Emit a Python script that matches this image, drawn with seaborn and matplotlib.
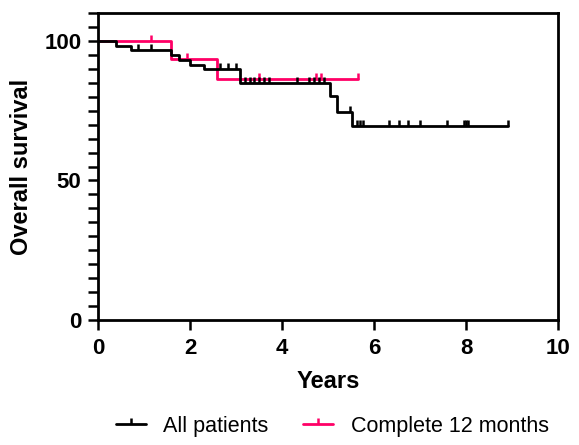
import numpy as np
import pandas as pd
import seaborn as sns
import matplotlib.pyplot as plt
from matplotlib.lines import Line2D
from matplotlib.ticker import MultipleLocator

# Kaplan-Meier step values
all_t = [0, 0.39, 0.71, 1.59, 1.75, 2.0, 2.31, 3.09, 5.04, 5.19, 5.52, 8.91]
all_s = [100, 98.3, 96.6, 94.9, 93.2, 91.5, 89.8, 85.0, 80.1, 74.7, 69.5, 69.5]
# censored points (All patients)
all_cens_t = [0.88, 1.15, 2.65, 2.82, 3.0, 3.2, 3.3, 3.4, 3.5, 3.6, 3.72, 4.33, 4.58,
              4.7, 4.8, 4.92, 5.47, 5.64, 5.7, 5.76, 6.32, 6.54, 6.73, 6.99, 7.58,
              7.95, 8.0, 8.04, 8.91]
all_cens_s = [96.6, 96.6, 89.8, 89.8, 89.8, 85.0, 85.0, 85.0, 85.0, 85.0, 85.0, 85.0, 85.0,
              85.0, 85.0, 85.0, 74.7, 69.5, 69.5, 69.5, 69.5, 69.5, 69.5, 69.5, 69.5,
              69.5, 69.5, 69.5, 69.5]

c12_t = [0, 1.59, 2.58, 5.66]
c12_s = [100, 93.4, 86.3, 86.3]
c12_cens_t = [1.15, 1.93, 3.49, 4.73, 4.84, 5.66]
c12_cens_s = [100, 93.4, 86.3, 86.3, 86.3, 86.3]

labels = ["All patients", "Complete 12 months"]
colors = ["black", "#FF0066"]

sns.set_style("ticks", {"axes.edgecolor": "black", "text.color": "black",
                        "axes.labelcolor": "black", "xtick.color": "black",
                        "ytick.color": "black"})
plt.rcParams['font.family'] = ['Liberation Sans', 'DejaVu Sans']

fig = plt.figure(figsize=(5.79, 4.45), dpi=100)
ax = fig.add_axes([98/579, 1 - 320/445, (558 - 98)/579, (320 - 13)/445])

tick_mark = [(0, 0), (0, 1)]  # upward censor tick

# pink first, black on top
for t, s, ct, cs, col in [(c12_t, c12_s, c12_cens_t, c12_cens_s, colors[1]),
                          (all_t, all_s, all_cens_t, all_cens_s, colors[0])]:
    sns.lineplot(x=t, y=s, drawstyle='steps-post', color=col, linewidth=2,
                 ax=ax, legend=False)
    ax.plot(ct, cs, linestyle='none', marker=tick_mark, markersize=9,
            markeredgewidth=1.8, color=col)

ax.set_xlim(0, 10)
ax.set_ylim(0, 110)
ax.xaxis.set_major_locator(MultipleLocator(2))
ax.yaxis.set_major_locator(MultipleLocator(50))
ax.yaxis.set_minor_locator(MultipleLocator(5))
ax.tick_params(axis='both', which='both', direction='out', width=1.8,
               labelsize=16, length=7, top=False, right=False, color='black')
ax.tick_params(axis='x', pad=6)
ax.tick_params(axis='y', pad=5)
for lab in ax.get_xticklabels() + ax.get_yticklabels():
    lab.set_fontweight('bold')
for sp in ax.spines.values():
    sp.set_linewidth(2)
    sp.set_color('black')

ax.set_xlabel("Years", fontsize=17, fontweight='bold', labelpad=8)
ax.set_ylabel("Overall survival", fontsize=17, fontweight='bold', labelpad=8)

handles = [Line2D([], [], color=c, lw=2, marker=tick_mark, markersize=9,
                  markeredgewidth=1.8) for c in colors]
fig.legend(handles, labels, loc='lower center', ncol=2, frameon=False,
           fontsize=15.5, bbox_to_anchor=(0.574, -0.025), handlelength=1.4,
           handletextpad=0.8, columnspacing=1.6, numpoints=1)

fig.savefig("out.png", dpi=100)
